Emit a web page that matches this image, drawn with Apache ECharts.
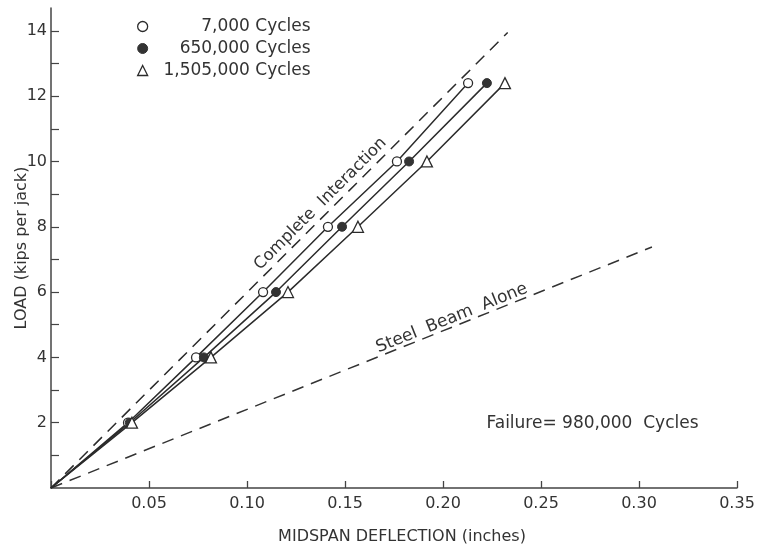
<!DOCTYPE html>
<html>
<head>
<meta charset="utf-8">
<script src="https://cdn.jsdelivr.net/npm/echarts@6/dist/echarts.min.js"></script>
<style>
  html, body { margin: 0; padding: 0; background: #fff; }
  #chart { width: 764px; height: 551px; }
</style>
</head>
<body>
<div id="chart"></div>
<script>
// Load levels (kips per jack) and midspan deflections (inches) for each cycle count
const loads = [2, 4, 6, 8, 10, 12.4];
const defl7000 = [0.0393, 0.074, 0.1082, 0.1413, 0.1765, 0.2128];
const defl650000 = [0.0402, 0.078, 0.1148, 0.1485, 0.1827, 0.2224];
const defl1505000 = [0.0413, 0.0816, 0.1209, 0.1566, 0.1918, 0.2316];

const seriesNames = ['7,000 Cycles', '650,000 Cycles', '1,505,000 Cycles'];

// Theoretical reference lines: [deflection, load]
const completeInteraction = [[0, 0], [0.233, 13.95]];
const steelBeamAlone = [[0, 0], [0.3066, 7.38]];

// Axis ticks
const xTicks = [0.05, 0.10, 0.15, 0.20, 0.25, 0.30, 0.35];
const yLabels = [2, 4, 6, 8, 10, 12, 14];
const yTicks = [1, 2, 3, 4, 5, 6, 7, 8, 9, 10, 11, 12, 13, 14];

const FONT = 'DejaVu Sans';
const INK = '#2b2b2b';

function curve(defl) {
  const pts = [{ value: [0, 0], symbol: 'none' }];
  defl.forEach((d, i) => pts.push({ value: [d, loads[i]] }));
  return pts;
}

const markerStyles = [
  { symbol: 'circle', itemStyle: { color: '#fff', borderColor: INK, borderWidth: 1.3 } },
  { symbol: 'circle', itemStyle: { color: '#333', borderColor: '#333', borderWidth: 1 } },
  { symbol: 'triangle', itemStyle: { color: '#fff', borderColor: INK, borderWidth: 1.3 } }
];

const chart = echarts.init(document.getElementById('chart'), null, { renderer: 'canvas' });

const dataSets = [defl7000, defl650000, defl1505000];

const option = {
  animation: false,
  backgroundColor: '#fff',
  grid: { left: 51, right: 27, top: 8, bottom: 63, containLabel: false, outerBoundsMode: 'none' },
  legend: {
    orient: 'vertical',
    left: 132,
    top: 13,
    itemWidth: 10,
    itemHeight: 10,
    itemGap: 5,
    data: seriesNames.map((n, i) => ({
      name: n,
      icon: markerStyles[i].symbol,
      itemStyle: markerStyles[i].itemStyle
    })),
    formatter: name => '{t|' + name + '}',
    textStyle: {
      rich: {
        t: { width: 158, align: 'right', fontFamily: FONT, fontSize: 17, color: '#333', lineHeight: 18 }
      }
    }
  },
  xAxis: {
    type: 'value',
    min: 0,
    max: 0.35,
    interval: 0.05,
    name: 'MIDSPAN DEFLECTION (inches)',
    nameLocation: 'middle',
    nameGap: 41,
    nameMoveOverlap: false,
    nameTextStyle: { fontFamily: FONT, fontSize: 16, color: '#333', padding: [0, 0, 0, 16] },
    axisLine: { lineStyle: { color: '#444', width: 1.5 } },
    axisTick: { inside: true, length: 7, lineStyle: { color: '#444', width: 1.3 } },
    axisLabel: {
      customValues: xTicks,
      formatter: v => v.toFixed(2),
      fontFamily: FONT, fontSize: 16, color: '#333', margin: 8
    },
    splitLine: { show: false }
  },
  yAxis: {
    type: 'value',
    min: 0,
    max: 14.7,
    name: 'LOAD (kips per jack)',
    nameLocation: 'middle',
    nameGap: 21,
    nameMoveOverlap: false,
    nameTextStyle: { fontFamily: FONT, fontSize: 16, color: '#333' },
    axisLine: { lineStyle: { color: '#444', width: 1.5 } },
    axisTick: { inside: true, length: 8, customValues: yTicks, lineStyle: { color: '#444', width: 1.2 } },
    axisLabel: {
      customValues: yLabels,
      fontFamily: FONT, fontSize: 16, color: '#333', margin: 4
    },
    splitLine: { show: false }
  },
  series: [
    ...dataSets.map((d, i) => ({
      name: seriesNames[i],
      type: 'line',
      data: curve(d),
      symbol: markerStyles[i].symbol,
      symbolSize: markerStyles[i].symbol === 'triangle' ? 11 : 9,
      showAllSymbol: true,
      itemStyle: markerStyles[i].itemStyle,
      lineStyle: { color: INK, width: 1.5 },
      z: 3 + i
    })),
    {
      name: 'Complete Interaction',
      type: 'line',
      data: completeInteraction,
      symbol: 'none',
      lineStyle: { color: INK, width: 1.5, type: [12, 8] },
      z: 2
    },
    {
      name: 'Steel Beam Alone',
      type: 'line',
      data: steelBeamAlone,
      symbol: 'none',
      lineStyle: { color: '#333', width: 1.5, type: [12, 8] },
      z: 2
    }
  ]
};

chart.setOption(option);

// Labels placed along the reference lines, positioned through the grid's scales
function lineLabel(text, at, angleDeg, size) {
  const p = chart.convertToPixel({ gridIndex: 0 }, at);
  return {
    type: 'text',
    x: p[0],
    y: p[1],
    rotation: angleDeg * Math.PI / 180,
    style: {
      text: text,
      fontFamily: FONT,
      fontSize: size,
      fill: '#333',
      align: 'center',
      verticalAlign: 'middle'
    },
    z: 10
  };
}

const failurePos = chart.convertToPixel({ gridIndex: 0 }, [0.2222, 1.98]);

chart.setOption({
  graphic: [
    lineLabel('Complete  Interaction', [0.1375, 8.7], 45, 16.5),
    lineLabel('Steel  Beam  Alone', [0.2045, 5.2], 22, 17),
    {
      type: 'text',
      x: failurePos[0],
      y: failurePos[1],
      style: {
        text: 'Failure= 980,000  Cycles',
        fontFamily: FONT,
        fontSize: 17,
        fill: '#333',
        align: 'left',
        verticalAlign: 'middle'
      }
    }
  ]
});
</script>
</body>
</html>
